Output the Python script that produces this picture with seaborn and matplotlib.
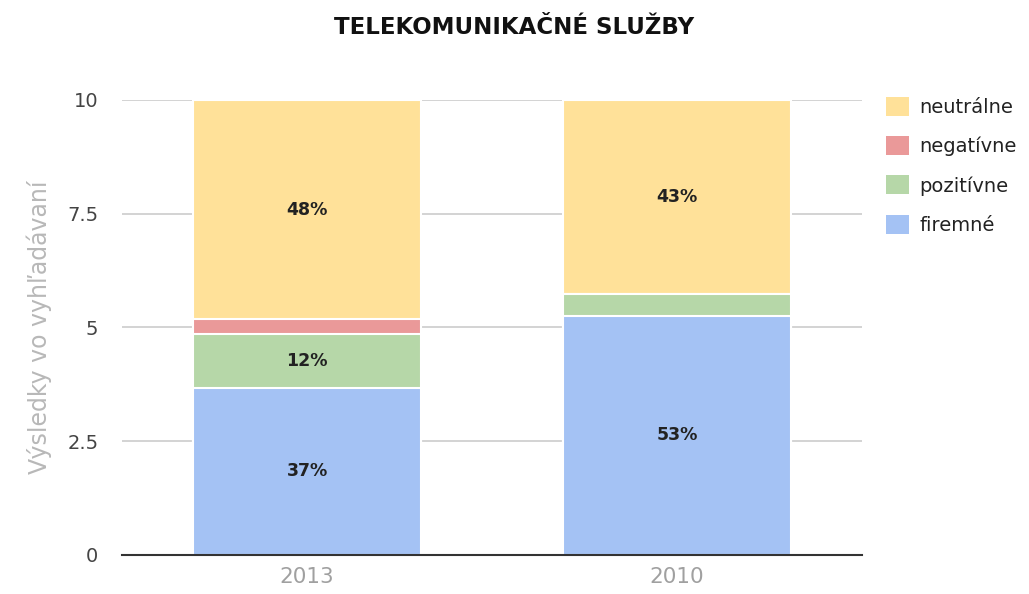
import seaborn as sns
import pandas as pd
import numpy as np
import matplotlib.pyplot as plt
from matplotlib.patches import Patch

years = ["2013", "2010"]
firemne = [3.68, 5.26]
pozitivne = [1.17, 0.47]
negativne = [0.33, 0.0]
neutralne = [4.82, 4.27]

series = ["neutrálne", "negatívne", "pozitívne", "firemné"]
colors = {"neutrálne": "#FFE199", "negatívne": "#EA9999",
          "pozitívne": "#B6D7A8", "firemné": "#A4C2F4"}

sns.set_style("white")
plt.rcParams["font.family"] = ["DejaVu Sans"]

df = pd.DataFrame({"rok": years, "firemné": firemne, "pozitívne": pozitivne,
                   "negatívne": negativne, "neutrálne": neutralne})
# cumulative heights, bottom segment first
order = ["firemné", "pozitívne", "negatívne", "neutrálne"]
cum = df[order].cumsum(axis=1)
total = cum["neutrálne"]

fig = plt.figure(figsize=(10.29, 5.94), dpi=100)
ax = fig.add_axes([0.1186, 0.0657, 0.7191, 0.766])

ax.set_axisbelow(True)
ax.yaxis.grid(True, color="#cccccc", linewidth=1.2)

# draw tallest cumulative first so lower layers sit on top
for name in order[::-1]:
    sns.barplot(x=df["rok"], y=cum[name], color=colors[name], width=0.614,
                edgecolor="white", linewidth=1.5, saturation=1, ax=ax, zorder=2)

# percentage labels in the middle of each segment
for i in range(len(df)):
    low = 0
    for name in order:
        v = df[name][i]
        pct = v / total[i] * 100
        if pct >= 10:
            ax.text(i, low + v / 2, "%d%%" % round(pct), ha="center", va="center",
                    fontsize=12.5, fontweight="bold", color="#222222", zorder=3)
        low += v

ax.set_ylim(0, 10)
ax.set_xlim(-0.5, 1.5)
ax.set_yticks([0, 2.5, 5, 7.5, 10])
ax.set_yticklabels(["0", "2.5", "5", "7.5", "10"])
ax.tick_params(axis="y", length=0, pad=17, labelsize=14, labelcolor="#444444")
ax.tick_params(axis="x", length=0, pad=9, labelsize=15.5, labelcolor="#a0a0a0")
ax.set_xlabel("")
ax.set_ylabel("Výsledky vo vyhľadávaní", fontsize=17, color="#b8b8b8", labelpad=11)

for s in ["top", "right", "left"]:
    ax.spines[s].set_visible(False)
ax.spines["bottom"].set_color("#333333")
ax.spines["bottom"].set_linewidth(1.5)
ax.spines["bottom"].set_zorder(4)

fig.text(0.5, 0.953, "TELEKOMUNIKAČNÉ SLUŽBY", ha="center", va="center",
         fontsize=16.5, fontweight="bold", color="#111111")

handles = [Patch(facecolor=colors[n], edgecolor="none") for n in series]
fig.legend(handles, series, loc="upper left", bbox_to_anchor=(0.844, 0.866),
           frameon=False, fontsize=14, handlelength=1.2, handleheight=1.13,
           handletextpad=0.5, labelspacing=0.98, labelcolor="#222222",
           borderpad=0.4)

fig.savefig("out.png", dpi=100)
